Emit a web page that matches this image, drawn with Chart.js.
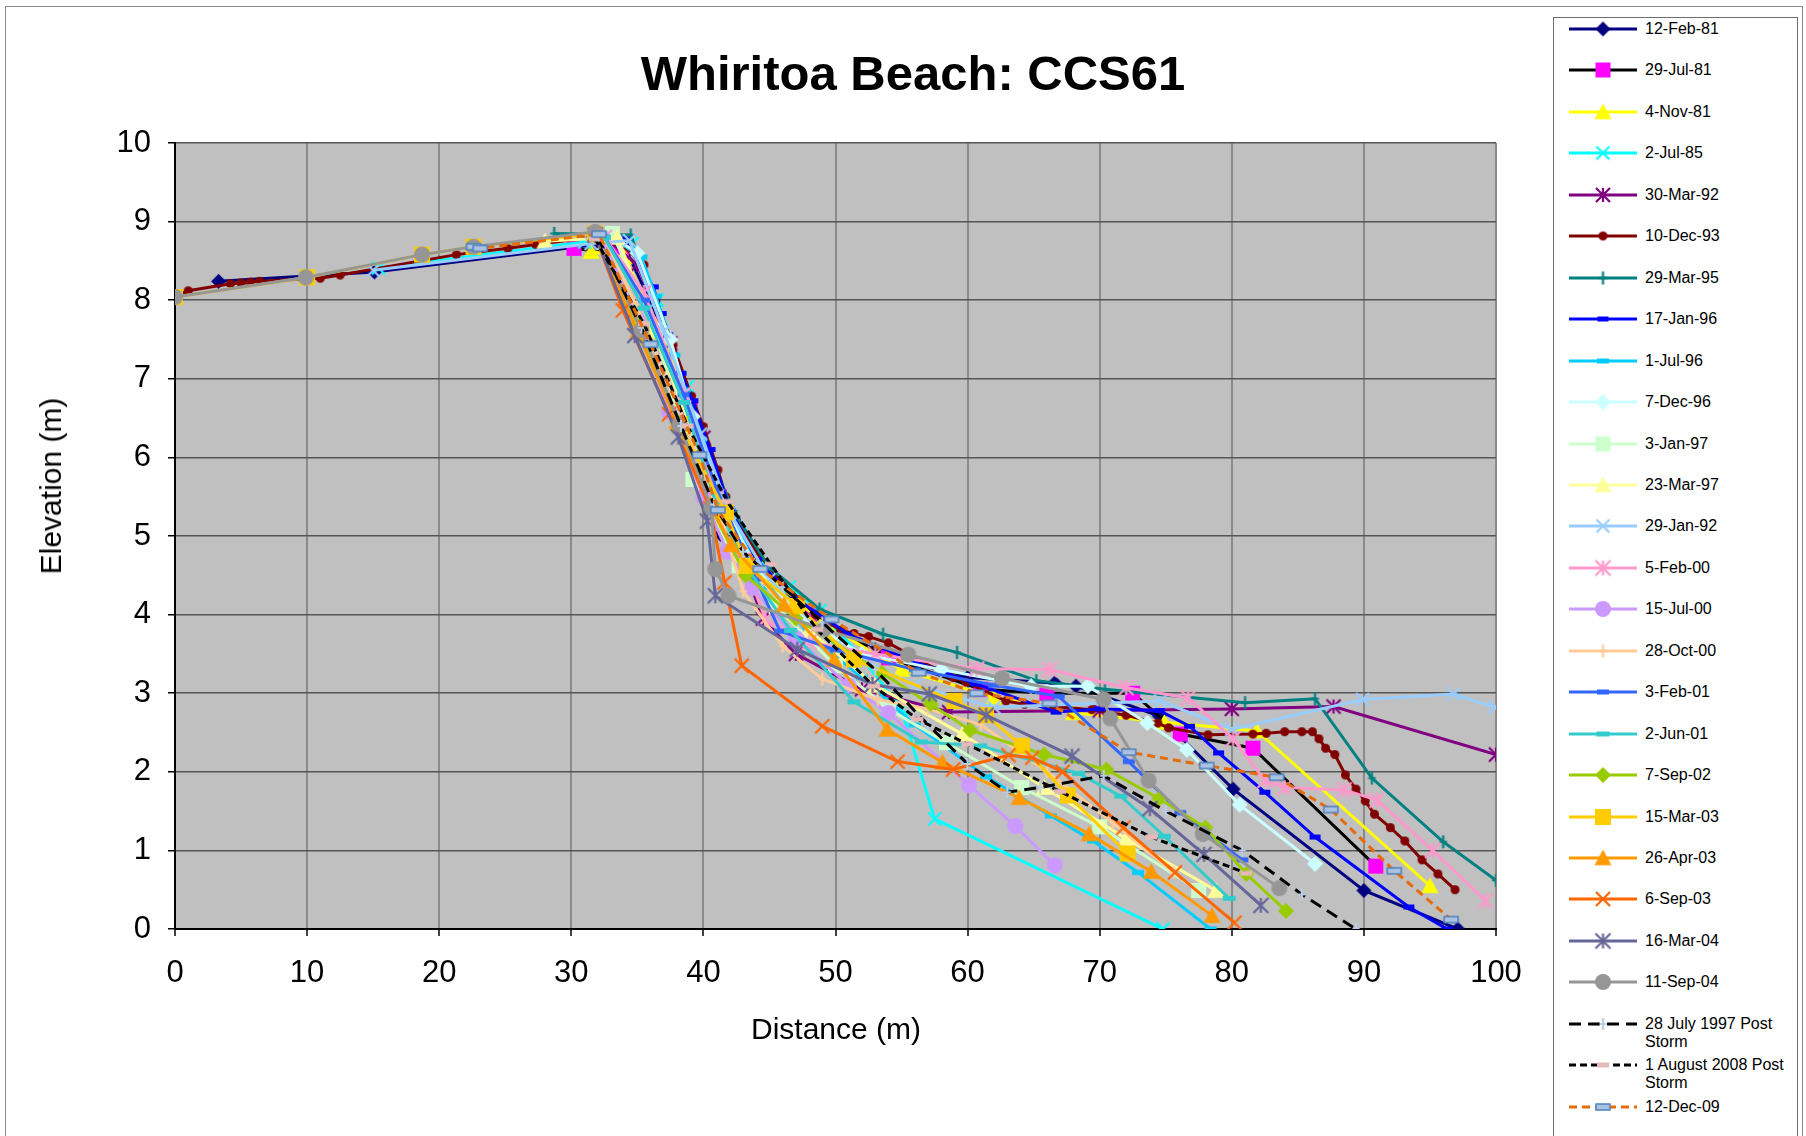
<!DOCTYPE html>
<html>
<head>
<meta charset="utf-8">
<script src="https://cdn.jsdelivr.net/npm/chart.js@4.4.1/dist/chart.umd.min.js"></script>
<style>
  html,body{margin:0;padding:0;background:#fff;overflow:hidden;width:1806px;height:1136px;font-family:"Liberation Sans",Arial,sans-serif;}
  #frame{position:absolute;left:5px;top:6px;width:1798px;height:1200px;border-left:1px solid #8a8a8a;border-top:1px solid #8a8a8a;border-right:1px solid #8a8a8a;box-sizing:border-box;}
  #c{position:absolute;left:0;top:0;z-index:1;}
  .txt{position:absolute;z-index:3;color:#000;white-space:nowrap;}
  #title{left:913px;top:73px;transform:translate(-50%,-50%);font-weight:bold;font-size:49px;}
  #xt{left:836px;top:1029px;transform:translate(-50%,-50%);font-size:30px;}
  #yt{left:51px;top:486px;transform:translate(-50%,-50%) rotate(-90deg);font-size:30px;}
  #legend{position:absolute;left:1553px;top:17px;width:245px;height:1200px;border:1px solid #6e6e6e;background:#fff;z-index:2;box-sizing:border-box;}
  .li{position:absolute;left:0;width:245px;}
  .li canvas{position:absolute;left:13px;}
  .li span{position:absolute;left:91px;font-size:16px;line-height:18px;white-space:nowrap;color:#000;}
</style>
</head>
<body>
<div id="frame"></div>
<canvas id="c" width="1806" height="1136"></canvas>
<div id="title" class="txt">Whiritoa Beach: CCS61</div>
<div id="xt" class="txt">Distance (m)</div>
<div id="yt" class="txt">Elevation (m)</div>
<div id="legend"></div>
<script>
// ---------------- DATA (distance m, elevation m) ----------------
const seriesNames = ["12-Feb-81","29-Jul-81","4-Nov-81","2-Jul-85","30-Mar-92","10-Dec-93","29-Mar-95","17-Jan-96","1-Jul-96","7-Dec-96","3-Jan-97","23-Mar-97","29-Jan-92","5-Feb-00","15-Jul-00","28-Oct-00","3-Feb-01","2-Jun-01","7-Sep-02","15-Mar-03","26-Apr-03","6-Sep-03","16-Mar-04","11-Sep-04","28 July 1997 Post Storm","1 August 2008 Post Storm","12-Dec-09"];

const feb81 = [[3.3,8.24],[15.1,8.36],[31.5,8.7],[34.2,8.62],[36.5,7.8],[38.8,6.75],[40.5,5.9],[41.3,5.02],[44,4.55],[48,4.0],[53,3.55],[60,3.2],[66.6,3.13],[68.2,3.09],[74.5,2.71],[80.1,1.78],[90,0.49],[97.1,0.0]];
const jul81 = [[30.2,8.66],[33.8,8.58],[36.5,7.7],[39,6.6],[41.2,5.5],[43.8,4.7],[48,4.0],[54,3.45],[61,3.05],[66,3.0],[72.5,3.0],[76.1,2.48],[81.6,2.3],[90.9,0.8]];
const nov81 = [[31.5,8.62],[34,8.55],[36.8,7.6],[39.5,6.4],[41.8,5.3],[44.5,4.55],[49,3.9],[55,3.3],[62,2.95],[68,2.75],[74.9,2.63],[81.9,2.52],[95.0,0.55]];
const jul85 = [[15.4,8.41],[31,8.74],[34.6,8.72],[36.5,8.0],[38.8,6.9],[41,5.6],[43.5,4.8],[46.5,4.35],[48.8,4.05],[52,3.45],[55,2.8],[57.5,1.4],[74.8,0.0]];
const mar92 = [[32.5,8.8],[35,8.45],[37.5,7.45],[40,6.25],[41.8,5.2],[44.5,3.95],[47,3.5],[52,3.05],[58.6,2.76],[70,2.78],[80,2.8],[87.7,2.83],[100,2.22]];
const dec93 = [[0,8.05],[1,8.12],[4.2,8.21],[5,8.22],[5.7,8.23],[6.4,8.24],[11,8.28],[12.5,8.32],[21.3,8.58],[25.2,8.66],[27.3,8.71],[31.6,8.8],[33.5,8.75],[35.5,8.45],[36.4,8.0],[37.7,7.43],[39.1,6.78],[40,6.39],[41.1,5.84],[41.7,5.5],[42.5,5.2],[44,4.8],[46,4.4],[48.5,4.0],[50.4,3.8],[51.4,3.76],[52.5,3.72],[54,3.64],[57.9,3.28],[58.9,3.2],[59.9,3.14],[62.9,2.9],[64.3,2.86],[66.5,2.83],[69.4,2.79],[72,2.72],[74.4,2.62],[75.2,2.56],[78.2,2.47],[81.6,2.48],[82.6,2.49],[84,2.51],[85.3,2.51],[86.1,2.51],[86.6,2.42],[87.1,2.3],[87.8,2.22],[88.6,1.96],[89.4,1.78],[90.1,1.63],[90.8,1.46],[92,1.29],[93.1,1.12],[94.4,0.88],[95.6,0.7],[96.9,0.5]];
const mar95 = [[28.7,8.85],[34.5,8.83],[37.7,7.33],[39.2,6.65],[41,5.8],[42.5,5.25],[45,4.6],[48.8,4.07],[53.6,3.75],[59.2,3.52],[65.2,3.16],[70.4,3.05],[81,2.88],[86.3,2.93],[90.6,1.92],[96,1.11],[100,0.62]];
const jan96 = [[34,8.78],[36.2,8.17],[36.8,7.83],[37.3,7.56],[38.3,7.07],[39.2,6.72],[40.5,6.1],[42,5.35],[44,4.7],[47,4.2],[51,3.75],[56,3.4],[60.6,3.12],[66.7,2.76],[70,2.8],[74.5,2.78],[76.8,2.58],[79,2.24],[82.5,1.74],[86.3,1.17],[93.4,0.28],[96.3,0.0]];
const jul96 = [[33,8.8],[35.3,8.55],[36.4,8.05],[37.8,7.3],[38.6,6.86],[39.8,6.23],[41,5.6],[42.5,5.0],[45,4.35],[48,3.75],[52,3.2],[56,2.6],[61.4,1.94],[66.3,1.44],[69.5,1.12],[72.9,0.72],[78.4,0.0]];
const dec96 = [[33,8.82],[35,8.6],[37.5,7.5],[39.2,6.52],[41.5,5.4],[44,4.6],[47.5,3.95],[52,3.5],[58,3.3],[64.8,3.09],[69.1,3.09],[73.6,2.62],[76.6,2.28],[80.6,1.58],[86.3,0.83]];
const jan97 = [[33.1,8.85],[36.4,7.62],[39.2,5.72],[42.7,4.62],[45.5,4.1],[50,3.35],[54,2.8],[58.4,2.37],[64.1,1.8],[70,1.3],[77.5,0.49]];
const mar97 = [[28,8.75],[33.5,8.8],[36.2,7.62],[39,6.4],[41.5,5.2],[44,4.5],[48,3.8],[53,3.1],[59.6,2.48],[65.8,1.8],[72,1.15],[78.8,0.49]];
const jan92 = [[15,8.38],[31.5,8.72],[34.4,8.76],[37,7.6],[39.8,6.3],[42,5.3],[45,4.45],[50,3.6],[56,3.1],[62,2.82],[74.6,2.9],[80,2.54],[89.9,2.92],[96.8,2.99],[99.9,2.82]];
const feb00 = [[32.5,8.8],[35.5,8.1],[38.5,6.8],[41,5.5],[43,4.7],[44.7,3.94],[48,3.65],[53,3.5],[60.7,3.31],[66.2,3.3],[72,3.07],[76.7,2.94],[80.1,2.42],[82.5,1.89],[84,1.8],[88.5,1.77],[91,1.64],[95.2,1.0],[99.2,0.36]];
const jul00 = [[32.3,8.8],[35,7.75],[37.4,6.58],[40,5.5],[41.8,4.8],[43.7,4.34],[47,3.7],[51,3.1],[54,2.75],[60.1,1.83],[63.6,1.31],[66.6,0.81]];
const oct00 = [[32.5,8.8],[35,7.9],[38,6.7],[40.8,5.5],[43,4.3],[46,3.6],[49,3.18],[53.2,2.92],[57,2.8],[61,2.6],[66,2.0],[71,1.35],[75.6,0.72]];
const feb01 = [[32.5,8.8],[35.5,8.0],[38.5,6.8],[41,5.6],[44,4.45],[45.8,3.79],[50,3.55],[56,3.3],[62,3.1],[66.9,2.96],[72.2,2.13],[76.1,1.48],[80.8,0.88]];
const jun01 = [[32.5,8.8],[35.5,7.9],[38.5,6.7],[41,5.4],[43.5,4.55],[46.6,3.8],[51.4,2.89],[56.5,2.38],[61,2.33],[68.4,1.98],[71.6,1.69],[74.9,1.18],[79.8,0.39]];
const sep02 = [[31.8,8.82],[35,7.7],[38,6.45],[40.6,5.35],[43.2,4.5],[47,3.95],[53.5,3.26],[57.2,2.86],[60.2,2.53],[65.8,2.22],[70.5,2.03],[74.5,1.66],[78,1.29],[81.1,0.7],[84.1,0.23]];
const mar03 = [[0,8.04],[10,8.29],[18.7,8.58],[22.6,8.68],[31.8,8.85],[35.3,7.62],[38.2,6.42],[41.7,5.3],[43.3,4.62],[47.1,4.11],[51.4,3.43],[59,2.9],[61.4,2.72],[64.1,2.33],[67.6,1.7],[72.1,0.96]];
const apr03 = [[31.8,8.83],[35,7.6],[38,6.45],[40.5,5.4],[42.1,4.89],[46.1,4.13],[49.9,3.43],[53.9,2.54],[58.1,2.12],[63.9,1.67],[69.2,1.21],[73.9,0.73],[78.5,0.17]];
const sep03 = [[31.8,8.83],[33.9,7.87],[37.4,6.55],[40.5,5.35],[41.6,4.41],[42.9,3.35],[49,2.58],[54.7,2.13],[58.9,2.03],[63.1,2.21],[64.9,2.18],[67.2,2.0],[71.8,1.29],[75.7,0.72],[80.2,0.08]];
const mar04 = [[31.8,8.83],[34.8,7.55],[38.1,6.26],[40.3,5.19],[40.9,4.24],[47.1,3.56],[52.8,3.11],[57.1,2.99],[61.4,2.72],[67.9,2.2],[73.8,1.53],[77.9,0.95],[82.2,0.3]];
const sep04 = [[0,8.04],[9.9,8.29],[18.7,8.58],[22.6,8.68],[31.8,8.87],[35.3,7.62],[38.2,6.42],[40.6,5.36],[40.9,4.58],[41.9,4.24],[49.1,3.81],[55.5,3.49],[62.6,3.19],[70.3,2.92],[70.8,2.68],[73.7,1.89],[77.8,1.21],[83.6,0.52]];
const storm97 = [[32,8.8],[35.3,7.65],[38.3,6.4],[40.8,5.4],[43,4.8],[46,4.35],[49,3.9],[53,3.3],[57,2.6],[60,2.1],[63,1.74],[65.5,1.8],[70.3,1.95],[75,1.5],[80.8,1.0],[85.3,0.44],[89.4,0.0]];
const storm08 = [[31.8,8.78],[35.5,7.7],[38.8,6.4],[41.8,5.44],[45.1,4.64],[48.6,3.81],[52.9,3.09],[56.2,2.67],[60,2.35],[67,1.75],[73.9,1.17],[81.1,0.71]];
const dec09 = [[22.6,8.68],[23.1,8.66],[32.1,8.84],[36,7.44],[39.7,6.03],[41.1,5.33],[44.3,4.58],[49.7,3.94],[56.3,3.26],[60.7,3.0],[66.2,2.87],[72.2,2.25],[78.1,2.08],[83.4,1.93],[87.5,1.52],[92.3,0.74],[96.6,0.12]];

const allSeries = [feb81,jul81,nov81,jul85,mar92,dec93,mar95,jan96,jul96,dec96,jan97,mar97,jan92,feb00,jul00,oct00,feb01,jun01,sep02,mar03,apr03,sep03,mar04,sep04,storm97,storm08,dec09];

const xTickValues = [0,10,20,30,40,50,60,70,80,90,100];
const yTickValues = [0,1,2,3,4,5,6,7,8,9,10];

// ---------------- STYLES ----------------
const lineColors = ['#000080','#000000','#FFFF00','#00FFFF','#800080','#800000','#008080','#0000FF','#00CCFF','#CCFFFF','#CCFFCC','#FFFF99','#99CCFF','#FF99CC','#CC99FF','#FFCC99','#3366FF','#33CCCC','#99CC00','#FFCC00','#FF9900','#FF6600','#666699','#969696','#000000','#000000','#E46C0A'];
const markerSpec = [
  ['diamond','#000080',null,15],['square','#FF00FF',null,15],['triangle','#FFFF00',null,17],['x','#00FFFF',null,13],
  ['star','#800080',null,14],['circle','#800000',null,9],['plus','#008080',null,13],['dash','#0000FF',null,11],
  ['dash','#00CCFF',null,12],['diamond','#CCFFFF',null,16],['square','#CCFFCC',null,15],['triangle','#FFFF99',null,17],
  ['x','#99CCFF',null,13],['star','#FF99CC',null,15],['circle','#CC99FF',null,16],['plus','#FFCC99',null,13],
  ['dash','#3366FF',null,12],['dash','#33CCCC',null,13],['diamond','#99CC00',null,16],['square','#FFCC00',null,16],
  ['triangle','#FF9900',null,17],['x','#FF6600',null,14],['star','#666699',null,15],['circle','#969696',null,16],
  ['plus','#B9CDE5',null,12],['dash','#E6B9B8',null,12],['dashbox','#A9C2E2','#4F81BD',14]
];
const dashes = allSeries.map(()=>[]);
dashes[24] = [12,7]; dashes[25] = [7,4]; dashes[26] = [8,5];

function makeMarker(type, fill, stroke, size){
  const s = Math.ceil(size) + 6;
  const c = document.createElement('canvas');
  c.width = s; c.height = s;
  const g = c.getContext('2d');
  const h = s/2, r = size/2;
  g.fillStyle = fill; g.strokeStyle = fill; g.lineWidth = 2.2; g.lineCap='butt';
  g.beginPath();
  if (type==='diamond'){ g.moveTo(h,h-r); g.lineTo(h+r,h); g.lineTo(h,h+r); g.lineTo(h-r,h); g.closePath(); g.fill(); }
  else if (type==='square'){ g.fillRect(h-r,h-r,size,size); }
  else if (type==='triangle'){ g.moveTo(h,h-r); g.lineTo(h+r,h+r*0.85); g.lineTo(h-r,h+r*0.85); g.closePath(); g.fill(); }
  else if (type==='circle'){ g.arc(h,h,r,0,Math.PI*2); g.fill(); }
  else if (type==='x'){ g.moveTo(h-r,h-r); g.lineTo(h+r,h+r); g.moveTo(h+r,h-r); g.lineTo(h-r,h+r); g.stroke(); }
  else if (type==='star'){ g.moveTo(h-r,h-r); g.lineTo(h+r,h+r); g.moveTo(h+r,h-r); g.lineTo(h-r,h+r); g.moveTo(h,h-r); g.lineTo(h,h+r); g.stroke(); }
  else if (type==='plus'){ g.moveTo(h,h-r); g.lineTo(h,h+r); g.moveTo(h-r*0.6,h); g.lineTo(h+r*0.6,h); g.stroke(); }
  else if (type==='dash'){ g.fillRect(h-r,h-2.5,size,5); }
  else if (type==='dashbox'){ g.fillRect(h-r,h-3,size,6); g.strokeStyle=stroke; g.lineWidth=1.5; g.strokeRect(h-r,h-3,size,6); }
  return c;
}
const markerImgs = markerSpec.map(m => makeMarker(m[0], m[1], m[2], m[3]));

// ---------------- CHART ----------------
const plotBg = {
  id:'plotBg',
  beforeDraw(chart){
    const {ctx, chartArea:a} = chart;
    ctx.save(); ctx.fillStyle = '#C0C0C0';
    ctx.fillRect(a.left, a.top, a.right-a.left, a.bottom-a.top);
    ctx.restore();
  }
};

const tickFont = {family:'"Liberation Sans", Arial, sans-serif', size:31};
const N = allSeries.length;
const datasets = allSeries.map((pts,i)=>({
  label: seriesNames[i],
  data: pts.map(p=>({x:p[0], y:p[1]})),
  showLine: true,
  borderColor: lineColors[i],
  backgroundColor: lineColors[i],
  borderWidth: 3,
  borderDash: dashes[i],
  pointStyle: markerImgs[i],
  pointRadius: 7,
  pointHoverRadius: 7,
  tension: 0,
  order: N - i
}));

new Chart(document.getElementById('c'), {
  type: 'scatter',
  data: { datasets },
  options: {
    responsive: false,
    devicePixelRatio: 1,
    animation: false,
    events: [],
    layout: { padding: { left: 75, top: 143, right: 310, bottom: 57 } },
    plugins: { legend: { display: false }, tooltip: { enabled: false }, title: { display: false } },
    scales: {
      x: {
        type: 'linear', min: 0, max: 100,
        afterBuildTicks(s){ s.ticks = xTickValues.map(v=>({value:v})); },
        ticks: { font: tickFont, color: '#000', padding: 19, maxRotation: 0, autoSkip: false },
        grid: { color: '#8a8a8a', lineWidth: 2, tickColor: '#000', tickLength: 7, tickWidth: 1.5 },
        border: { color: '#000', width: 2 },
        afterFit(s){ s.height = 150; s.paddingLeft = 0; s.paddingRight = 0; }
      },
      y: {
        type: 'linear', min: 0, max: 10,
        afterBuildTicks(s){ s.ticks = yTickValues.map(v=>({value:v})); },
        ticks: { font: tickFont, color: '#000', padding: 17 },
        grid: { color: '#555555', lineWidth: 1.5, tickColor: '#000', tickLength: 7, tickWidth: 1.5 },
        border: { color: '#000', width: 2 },
        afterFit(s){ s.width = 100; s.paddingTop = 0; s.paddingBottom = 0; }
      }
    }
  },
  plugins: [plotBg]
});

// ---------------- LEGEND (HTML) ----------------
const legend = document.getElementById('legend');
const legendLines = [["12-Feb-81"],["29-Jul-81"],["4-Nov-81"],["2-Jul-85"],["30-Mar-92"],["10-Dec-93"],["29-Mar-95"],["17-Jan-96"],["1-Jul-96"],["7-Dec-96"],["3-Jan-97"],["23-Mar-97"],["29-Jan-92"],["5-Feb-00"],["15-Jul-00"],["28-Oct-00"],["3-Feb-01"],["2-Jun-01"],["7-Sep-02"],["15-Mar-03"],["26-Apr-03"],["6-Sep-03"],["16-Mar-04"],["11-Sep-04"],["28 July 1997 Post","Storm"],["1 August 2008 Post","Storm"],["12-Dec-09"]];
legendLines.forEach((lines,i)=>{
  const cy = 11 + i*41.45;   // relative to legend box top
  const item = document.createElement('div');
  item.className = 'li'; item.style.top = (cy-12)+'px'; item.style.height='40px';
  const cv = document.createElement('canvas'); cv.width = 72; cv.height = 24; cv.style.top = '0px';
  const g = cv.getContext('2d');
  g.strokeStyle = lineColors[i]; g.lineWidth = 3; g.setLineDash(dashes[i]);
  g.beginPath(); g.moveTo(2,12); g.lineTo(70,12); g.stroke();
  g.setLineDash([]);
  const im = markerImgs[i];
  g.drawImage(im, 36 - im.width/2, 12 - im.height/2);
  item.appendChild(cv);
  const sp = document.createElement('span');
  sp.style.top = '3px';
  sp.innerHTML = lines.join('<br>');
  item.appendChild(sp);
  legend.appendChild(item);
});
</script>
</body>
</html>
